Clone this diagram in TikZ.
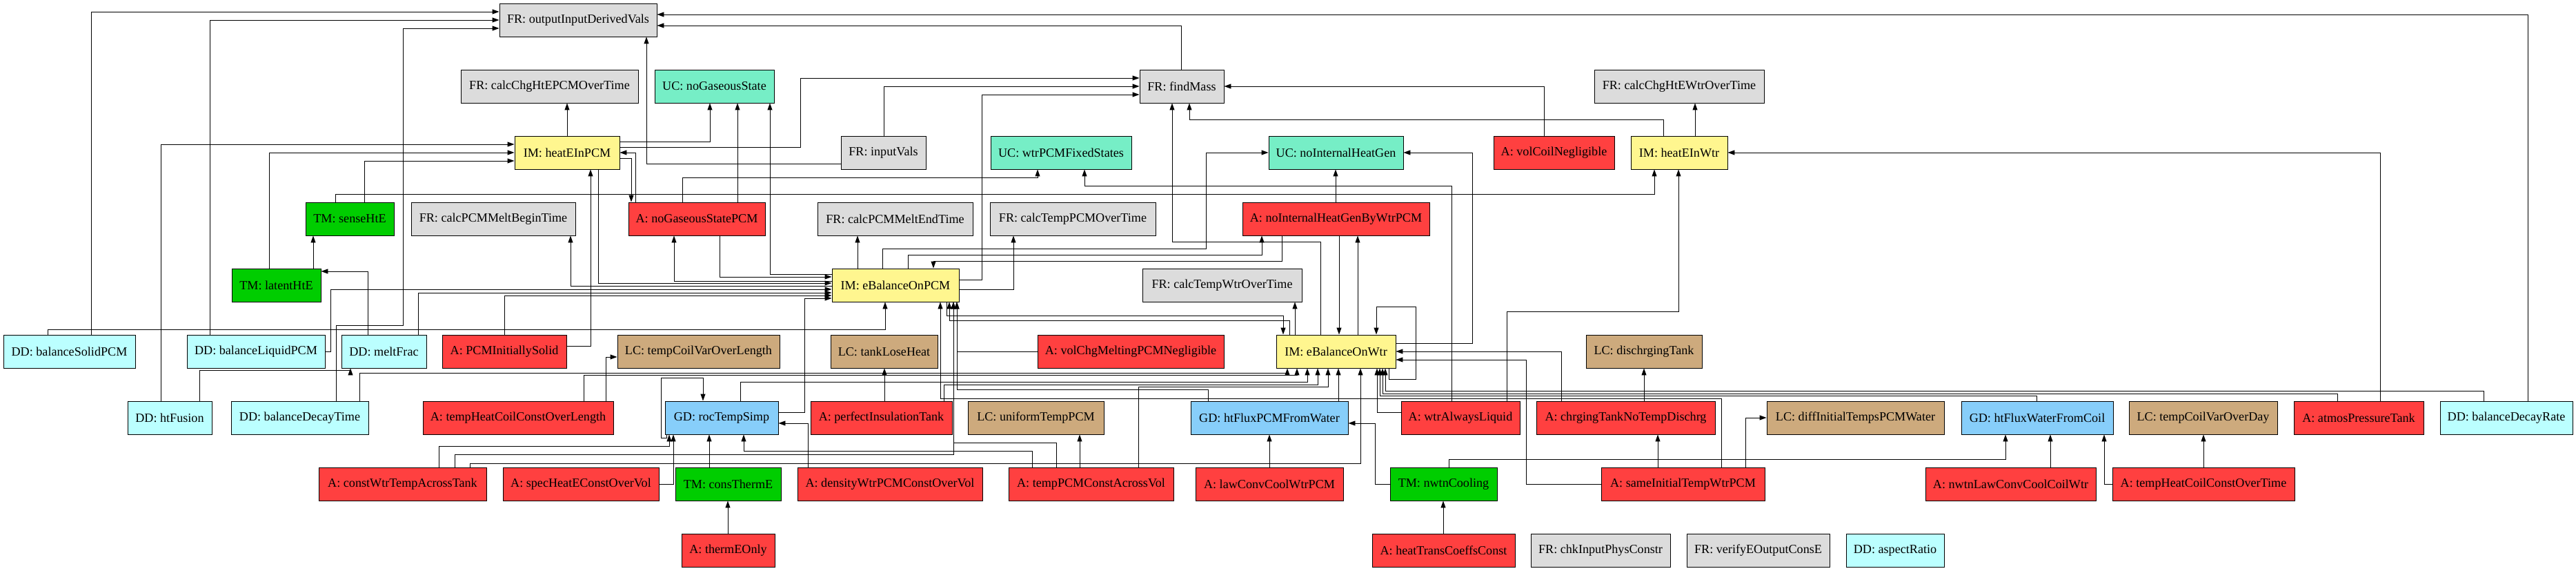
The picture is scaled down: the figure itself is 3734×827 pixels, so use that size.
\documentclass[tikz,border=0pt]{standalone}
\usepackage{fontspec}
\setmainfont{Liberation Serif}
\usetikzlibrary{arrows.meta}
\definecolor{FRc}{RGB}{220,220,220}
\definecolor{UCc}{HTML}{76EEC6}
\definecolor{IMc}{HTML}{FFF68F}
\definecolor{Ac}{HTML}{FF4040}
\definecolor{TMc}{HTML}{00CD00}
\definecolor{DDc}{HTML}{BBFFFF}
\definecolor{LCc}{HTML}{CDAA7D}
\definecolor{GDc}{HTML}{87CEFA}
\newcommand\fsz{\fontsize{13.6}{16}\selectfont}
\tikzset{
  bx/.style={draw=black, line width=0.7pt, minimum height=36pt, inner sep=0pt, font=\fsz, anchor=center},
  wd/.style={minimum width=#1*0.75pt},
  fr/.style={bx, fill=FRc}, uc/.style={bx, fill=UCc}, im/.style={bx, fill=IMc},
  as/.style={bx, fill=Ac}, tm/.style={bx, fill=TMc}, dd/.style={bx, fill=DDc},
  lc/.style={bx, fill=LCc}, gd/.style={bx, fill=GDc},
  ed/.style={draw=black, line width=0.7pt, -{Triangle[length=7.5pt,width=5.25pt]}}
}
\begin{document}
\begin{tikzpicture}[x=0.75pt,y=-0.75pt]
\useasboundingbox (0,0) rectangle (3734,827);
% row 0
\node[fr,wd=228] (outIn) at (838,29) {FR: outputInputDerivedVals};
% row 1
\node[fr,wd=257] (chgPCM) at (796.5,125) {FR: calcChgHtEPCMOverTime};
\node[uc,wd=173] (noGas) at (1035.5,125) {UC: noGaseousState};
\node[fr,wd=122] (findMass) at (1713,125) {FR: findMass};
\node[fr,wd=246] (chgWtr) at (2434,125) {FR: calcChgHtEWtrOverTime};
% row 2
\node[im,wd=152] (heatPCM) at (822,221) {IM: heatEInPCM};
\node[fr,wd=123] (inputVals) at (1280.5,221) {FR: inputVals};
\node[uc,wd=204] (wtrFixed) at (1538,221) {UC: wtrPCMFixedStates};
\node[uc,wd=195] (noIHG) at (1936.5,221) {UC: noInternalHeatGen};
\node[as,wd=175] (volCoil) at (2252.5,221) {A: volCoilNegligible};
\node[im,wd=140] (heatWtr) at (2434,221) {IM: heatEInWtr};
% row 3
\node[tm,wd=128] (senseHtE) at (507,317) {TM: senseHtE};
\node[fr,wd=238] (meltBegin) at (715,317) {FR: calcPCMMeltBeginTime};
\node[as,wd=198] (noGasPCM) at (1010,317) {A: noGaseousStatePCM};
\node[fr,wd=225] (meltEnd) at (1297.5,317) {FR: calcPCMMeltEndTime};
\node[fr,wd=240] (tempPCMOT) at (1555,317) {FR: calcTempPCMOverTime};
\node[as,wd=271] (noIHGWP) at (1936.5,317) {A: noInternalHeatGenByWtrPCM};
% row 4
\node[tm,wd=129] (latentHtE) at (400.5,413) {TM: latentHtE};
\node[im,wd=184] (eBalPCM) at (1298,413) {IM: eBalanceOnPCM};
\node[fr,wd=231] (tempWtrOT) at (1771.5,413) {FR: calcTempWtrOverTime};
% row 5
\node[dd,wd=191] (bSolid) at (100.5,509) {DD: balanceSolidPCM};
\node[dd,wd=200] (bLiquid) at (371,509) {DD: balanceLiquidPCM};
\node[dd,wd=123] (meltFrac) at (556.5,509) {DD: meltFrac};
\node[as,wd=180] (PCMInitSolid) at (731,509) {A: PCMInitiallySolid};
\node[lc,wd=235] (tempCoilLen) at (1012.5,509) {LC: tempCoilVarOverLength};
\node[lc,wd=155] (tankLose) at (1281.5,509) {LC: tankLoseHeat};
\node[as,wd=270] (volChg) at (1639,509) {A: volChgMeltingPCMNegligible};
\node[im,wd=173] (eBalWtr) at (1936.5,509) {IM: eBalanceOnWtr};
\node[lc,wd=168] (dischrg) at (2383,509) {LC: dischrgingTank};
% row 6
\node[dd,wd=122] (htFusion) at (246,605) {DD: htFusion};
\node[dd,wd=199] (bDecayTime) at (434.5,605) {DD: balanceDecayTime};
\node[as,wd=276] (tempHeatCoilLen) at (751,605) {A: tempHeatCoilConstOverLength};
\node[gd,wd=164] (rocTemp) at (1046,605) {GD: rocTempSimp};
\node[as,wd=205] (perfIns) at (1277.5,605) {A: perfectInsulationTank};
\node[lc,wd=197] (uniformPCM) at (1501.5,605) {LC: uniformTempPCM};
\node[gd,wd=228] (htFluxPCM) at (1840,605) {GD: htFluxPCMFromWater};
\node[as,wd=172] (wtrLiquid) at (2117,605) {A: wtrAlwaysLiquid};
\node[as,wd=259] (chrgTank) at (2356.5,605) {A: chrgingTankNoTempDischrg};
\node[lc,wd=257] (diffInit) at (2689.5,605) {LC: diffInitialTempsPCMWater};
\node[gd,wd=220] (htFluxCoil) at (2953,605) {GD: htFluxWaterFromCoil};
\node[lc,wd=215] (tempCoilDay) at (3193.5,605) {LC: tempCoilVarOverDay};
\node[as,wd=188] (atmos) at (3419,605) {A: atmosPressureTank};
\node[dd,wd=192] (bDecayRate) at (3633,605) {DD: balanceDecayRate};
% row 7
\node[as,wd=243] (constWtrT) at (583.5,701) {A: constWtrTempAcrossTank};
\node[as,wd=226] (specHeat) at (842,701) {A: specHeatEConstOverVol};
\node[tm,wd=153] (consThermE) at (1055.5,701) {TM: consThermE};
\node[as,wd=268] (densityWP) at (1290,701) {A: densityWtrPCMConstOverVol};
\node[as,wd=239] (tempPCMConst) at (1581.5,701) {A: tempPCMConstAcrossVol};
\node[as,wd=214] (lawConv) at (1840,701) {A: lawConvCoolWtrPCM};
\node[tm,wd=155] (nwtnCool) at (2092.5,701) {TM: nwtnCooling};
\node[as,wd=237] (sameInit) at (2439.5,701) {A: sameInitialTempWtrPCM};
\node[as,wd=247] (nwtnLaw) at (2914.5,701) {A: nwtnLawConvCoolCoilWtr};
\node[as,wd=264] (tempHeatCoilTime) at (3194,701) {A: tempHeatCoilConstOverTime};
% row 8
\node[as,wd=135] (thermEOnly) at (1055.5,797) {A: thermEOnly};
\node[as,wd=207] (heatTrans) at (2092.5,797) {A: heatTransCoeffsConst};
\node[fr,wd=202] (chkInput) at (2320,797) {FR: chkInputPhysConstr};
\node[fr,wd=207] (verifyE) at (2548.5,797) {FR: verifyEOutputConsE};
\node[dd,wd=142] (aspect) at (2747,797) {DD: aspectRatio};

% ---- edges ----
\draw[ed] (bSolid.north -| 132,0) |- (outIn.west |- 0,17);
\draw[ed] (bLiquid.north -| 304,0) |- (outIn.west |- 0,29);
\draw[ed] (bDecayTime.north -| 487,0) -- (487,471) -- (584,471) |- (outIn.west |- 0,41);
\draw[ed] (inputVals.west |- 0,237) -| (outIn.south -| 937,0);
\draw[ed] (bDecayRate.north -| 3664,0) |- (outIn.east |- 0,21);
\draw[ed] (findMass.north -| 1712,0) |- (outIn.east |- 0,37);
\draw[ed] (heatPCM.north -| 822,0) -- (chgPCM.south -| 822,0);
\draw[ed] (heatPCM.east |- 0,205) -| (noGas.south -| 1029,0);
\draw[ed] (heatPCM.east |- 0,213) -- (1160,213) |- (findMass.west |- 0,113);
\draw[ed] (inputVals.north -| 1281,0) |- (findMass.west |- 0,125);
\draw[ed] (eBalPCM.east |- 0,405) -- (1423,405) |- (findMass.west |- 0,137);
\draw[ed] (volCoil.north -| 2238,0) |- (findMass.east |- 0,125);
\draw[ed] (heatWtr.north -| 2411,0) -- (2411,173) -- (1724,173) -- (findMass.south -| 1724,0);
\draw[ed] (eBalWtr.north -| 1914,0) -- (1914,350) -- (1699,350) -- (findMass.south -| 1699,0);
\draw[ed] (heatWtr.north -| 2457,0) -- (chgWtr.south -| 2457,0);
\draw[ed] (atmos.north -| 3450,0) |- (heatWtr.east |- 0,221);
\draw[ed] (senseHtE.north -| 486,0) -- (486,281) -| (heatWtr.south -| 2398,0);
\draw[ed] (wtrLiquid.north -| 2184,0) -- (2184,451) -- (2433,451) -- (heatWtr.south -| 2433,0);
\draw[ed] (htFusion.north -| 233,0) |- (heatPCM.west |- 0,209);
\draw[ed] (latentHtE.north -| 390,0) |- (heatPCM.west |- 0,221);
\draw[ed] (senseHtE.north -| 528,0) |- (heatPCM.west |- 0,233);
\draw[ed] (latentHtE.north -| 454,0) -- (senseHtE.south -| 454,0);
\draw[ed] (meltFrac.north -| 533,0) |- (latentHtE.east |- 0,393);
\draw[ed] (htFusion.north -| 289,0) -- (289,536) -| (meltFrac.south -| 508,0);
\draw[ed] (noGasPCM.north -| 921,0) |- (heatPCM.east |- 0,221);
\draw[ed] (heatPCM.east |- 0,229) -| (noGasPCM.north -| 915,0);
\draw[ed] (noGasPCM.north -| 1069,0) -- (noGas.south -| 1069,0);
\draw[ed] (eBalPCM.west |- 0,397) -| (noGas.south -| 1116,0);
\draw[ed] (noGasPCM.north -| 989,0) -- (989,257) -| (wtrFixed.south -| 1504,0);
\draw[ed] (wtrLiquid.north -| 2104,0) -- (2104,269) -| (wtrFixed.south -| 1572,0);
\draw[ed] (eBalPCM.west |- 0,407) -| (noGasPCM.south -| 977,0);
\draw[ed] (noGasPCM.south -| 1043,0) |- (eBalPCM.west |- 0,401);
\draw[ed] (heatPCM.south -| 867,0) |- (eBalPCM.west |- 0,410);
\draw[ed] (PCMInitSolid.east |- 0,501) -| (heatPCM.south -| 856,0);
\draw[ed] (eBalPCM.west |- 0,414) -| (meltBegin.south -| 827,0);
\draw[ed] (bLiquid.east |- 0,509) -- (479,509) |- (eBalPCM.west |- 0,419);
\draw[ed] (meltFrac.north -| 606,0) |- (eBalPCM.west |- 0,424);
\draw[ed] (PCMInitSolid.north -| 731,0) |- (eBalPCM.west |- 0,428);
\draw[ed] (rocTemp.east |- 0,597) -- (1166,597) |- (eBalPCM.west |- 0,432);
\draw[ed] (bSolid.north -| 69,0) -- (69,477) -| (eBalPCM.south -| 1283,0);
\draw[ed] (eBalPCM.north -| 1243,0) -- (meltEnd.south -| 1243,0);
\draw[ed] (eBalPCM.north -| 1279,0) -- (1279,360) -- (1748,360) |- (noIHG.west |- 0,221);
\draw[ed] (eBalPCM.north -| 1316,0) -- (1316,369) -| (noIHGWP.south -| 1829,0);
\draw[ed] (noIHGWP.south -| 1858,0) -- (1858,378) -| (eBalPCM.north -| 1353,0);
\draw[ed] (eBalPCM.east |- 0,419) -| (tempPCMOT.south -| 1469,0);
\draw[ed] (noIHGWP.north -| 1936,0) -- (noIHG.south -| 1936,0);
\draw[ed] (noIHGWP.south -| 1941,0) -- (eBalWtr.north -| 1941,0);
\draw[ed] (eBalWtr.north -| 1968,0) -- (noIHGWP.south -| 1968,0);
\draw[ed] (eBalWtr.north -| 1877,0) -- (tempWtrOT.south -| 1877,0);
\draw[ed] (eBalWtr.east |- 0,497) -- (2134,497) |- (noIHG.east |- 0,221);
\draw[ed] (eBalPCM.south -| 1372,0) -- (1372,457) -| (eBalWtr.north -| 1860,0);
\draw[ed] (eBalWtr.north -| 1869,0) -- (1869,464) -| (eBalPCM.south -| 1376,0);
\draw[ed] (eBalWtr.south -| 2013,0) -- (2013,549) -- (2052,549) -- (2052,444) -- (1995,444) -- (eBalWtr.north -| 1995,0);
\draw[ed] (chrgTank.north -| 2263,0) |- (eBalWtr.east |- 0,509);
\draw[ed] (sameInit.west |- 0,701) -- (2212,701) |- (eBalWtr.east |- 0,521);
\draw[ed] (chrgTank.north -| 2383,0) -- (dischrg.south -| 2383,0);
\draw[ed] (sameInit.north -| 2403,0) -- (chrgTank.south -| 2403,0);
\draw[ed] (sameInit.north -| 2530,0) |- (diffInit.west |- 0,605);
\draw[ed] (sameInit.north -| 2495,0) -- (2495,577) -| (eBalPCM.south -| 1363,0);
\draw[ed] (htFluxPCM.north -| 1940,0) -- (eBalWtr.south -| 1940,0);
\draw[ed] (htFluxPCM.north -| 1751,0) -- (1751,564) -| (eBalPCM.south -| 1387,0);
\draw[ed] (lawConv.north -| 1840,0) -- (htFluxPCM.south -| 1840,0);
\draw[ed] (nwtnCool.west |- 0,701) -- (1993,701) |- (htFluxPCM.east |- 0,613);
\draw[ed] (nwtnCool.north -| 2100,0) -- (2100,665) -| (htFluxCoil.south -| 2907,0);
\draw[ed] (heatTrans.north -| 2092,0) -- (nwtnCool.south -| 2092,0);
\draw[ed] (nwtnLaw.north -| 2972,0) -- (htFluxCoil.south -| 2972,0);
\draw[ed] (tempHeatCoilTime.west |- 0,701) -- (3050,701) -- (htFluxCoil.south -| 3050,0);
\draw[ed] (tempHeatCoilTime.north -| 3194,0) -- (tempCoilDay.south -| 3194,0);
\draw[ed] (htFluxCoil.north -| 2952,0) -- (2952,573) -| (eBalWtr.south -| 2000,0);
\draw[ed] (atmos.north -| 3388,0) -- (3388,570) -| (eBalWtr.south -| 2004,0);
\draw[ed] (bDecayRate.north -| 3600,0) -- (3600,566) -| (eBalWtr.south -| 2008,0);
\draw[ed] (wtrLiquid.west |- 0,597) -- (1996,597) -- (eBalWtr.south -| 1996,0);
\draw[ed] (constWtrT.north -| 681,0) -- (681,671) -| (eBalWtr.south -| 1972,0);
\draw[ed] (constWtrT.north -| 636,0) -- (636,646) -| (rocTemp.south -| 970,0);
\draw[ed] (constWtrT.north -| 659,0) -- (659,658) -| (eBalPCM.south -| 1382,0);
\draw[ed] (bDecayTime.north -| 521,0) -- (521,540) -| (eBalWtr.south -| 1866,0);
\draw[ed] (tempHeatCoilLen.north -| 846,0) -- (846,543) -| (eBalWtr.south -| 1880,0);
\draw[ed] (tempHeatCoilLen.north -| 878,0) |- (tempCoilLen.west |- 0,517);
\draw[ed] (rocTemp.north -| 1073,0) -- (1073,553) -| (eBalWtr.south -| 1895,0);
\draw[ed] (perfIns.north -| 1368,0) -- (1368,557) -| (eBalWtr.south -| 1910,0);
\draw[ed] (tempPCMConst.north -| 1650,0) -- (1650,560) -| (eBalWtr.south -| 1925,0);
\draw[ed] (rocTemp.south -| 966,0) -- (966,634) -- (958,634) -- (958,547) -- (1019,547) -- (rocTemp.north -| 1019,0);
\draw[ed] (specHeat.east |- 0,701) -- (976,701) -- (rocTemp.south -| 976,0);
\draw[ed] (consThermE.north -| 1028,0) -- (rocTemp.south -| 1028,0);
\draw[ed] (tempPCMConst.north -| 1496,0) -- (1496,653) -| (rocTemp.south -| 1078,0);
\draw[ed] (densityWP.north -| 1171,0) |- (rocTemp.east |- 0,613);
\draw[ed] (perfIns.north -| 1282,0) -- (tankLose.south -| 1282,0);
\draw[ed] (tempPCMConst.north -| 1565,0) -- (uniformPCM.south -| 1565,0);
\draw[ed] (tempPCMConst.north -| 1531,0) -- (1531,641) -| (eBalPCM.south -| 1382,0);
\draw[ed] (volChg.west |- 0,509) -| (eBalPCM.south -| 1387,0);
\draw[ed] (thermEOnly.north -| 1055,0) -- (consThermE.south -| 1055,0);
\end{tikzpicture}
\end{document}
